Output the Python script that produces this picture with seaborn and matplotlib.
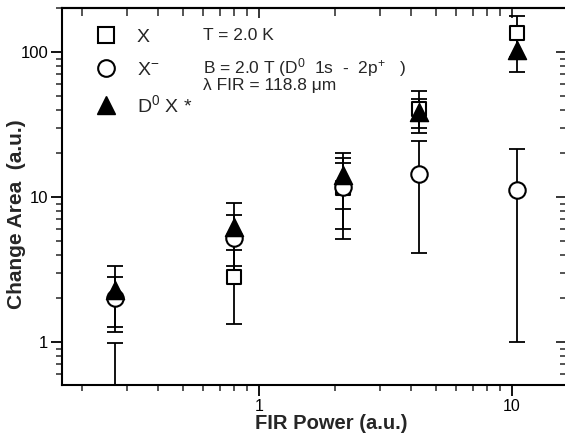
import numpy as np
import pandas as pd
import matplotlib
matplotlib.use('Agg')
import matplotlib.pyplot as plt
import seaborn as sns
from matplotlib.ticker import FuncFormatter, NullFormatter
from matplotlib.lines import Line2D

# ---- data ----
power = [0.27, 0.80, 2.14, 4.30, 10.5]          # FIR power (a.u.)
x_area = [0.30, 2.82, 11.6, 40.5, 134.5]         # X (open squares)
x_err = [0.68, 1.50, 5.6, 13.0, 42.0]
xm_area = [2.0, 5.2, 11.8, 14.3, 11.2]           # X- (open circles)
xm_err = [0.82, 2.3, 6.7, 10.2, 10.2]
d0x_area = [2.3, 6.2, 14.2, 38.7, 103.0]         # D0X* (filled triangles)
d0x_err = [1.03, 2.85, 6.0, 9.0, 30.0]
series_labels = ['X', 'X$^{-}$', 'D$^{0}$ X *']
x_ticks = [1, 10]
y_ticks = [1, 10, 100]

sns.set_style('ticks')
plt.rcParams['font.family'] = ['Liberation Sans', 'DejaVu Sans']
plt.rcParams['mathtext.fontset'] = 'custom'
plt.rcParams['mathtext.rm'] = 'Liberation Sans'
plt.rcParams['mathtext.it'] = 'Liberation Sans:italic'
plt.rcParams['mathtext.bf'] = 'Liberation Sans:bold'

df = pd.DataFrame({
    'power': power * 3,
    'area': x_area + xm_area + d0x_area,
    'series': [series_labels[0]] * 5 + [series_labels[1]] * 5 + [series_labels[2]] * 5,
})

fig = plt.figure(figsize=(5.65, 4.36), dpi=100)
ax = fig.add_axes([62 / 565, 51 / 436, 505 / 565, 377 / 436])
ax.set_xscale('log')
ax.set_yscale('log')

# error bars (below the markers)
for area, err in [(x_area, x_err), (xm_area, xm_err), (d0x_area, d0x_err)]:
    ax.errorbar(power, area, yerr=err, fmt='none', ecolor='black',
                elinewidth=1.3, capsize=6, capthick=1.3, zorder=2)

styles = {
    series_labels[0]: dict(marker='s', s=100, color='white', edgecolor='black', linewidth=1.5, zorder=3),
    series_labels[1]: dict(marker='o', s=140, color='white', edgecolor='black', linewidth=1.5, zorder=4),
    series_labels[2]: dict(marker='^', s=170, color='black', edgecolor='black', linewidth=1.0, zorder=5),
}
for lab in series_labels:
    sub = df[df['series'] == lab]
    sns.scatterplot(data=sub, x='power', y='area', ax=ax, legend=False, **styles[lab])

ax.set_xlim(0.1665, 16.5)
ax.set_ylim(0.505, 201)

fmt = FuncFormatter(lambda v, _: f'{v:g}')
ax.set_xticks(x_ticks)
ax.set_yticks(y_ticks)
ax.xaxis.set_major_formatter(fmt)
ax.yaxis.set_major_formatter(fmt)
ax.xaxis.set_minor_formatter(NullFormatter())
ax.yaxis.set_minor_formatter(NullFormatter())
ax.tick_params(which='major', direction='out', length=8, width=1.3, labelsize=12,
               top=False, right=False, pad=2, colors='black')
ax.tick_params(which='minor', direction='out', length=4, width=1.1, top=False, right=False)
ax.tick_params(axis='x', which='major', pad=2, labelsize=11.5)

for sp in ax.spines.values():
    sp.set_linewidth(1.5)
    sp.set_color('black')

secx = ax.secondary_xaxis('top')
secx.tick_params(which='major', direction='in', length=7, width=1.3, labeltop=False)
secx.tick_params(which='minor', direction='in', length=6, width=1.1)
secx.xaxis.set_major_formatter(NullFormatter())
secx.xaxis.set_minor_formatter(NullFormatter())
secx.spines['top'].set_linewidth(1.5)

secy = ax.secondary_yaxis('right')
secy.tick_params(which='major', direction='in', length=8, width=1.3, labelright=False)
secy.tick_params(which='minor', direction='in', length=5, width=1.1)
secy.yaxis.set_major_formatter(NullFormatter())
secy.yaxis.set_minor_formatter(NullFormatter())

ax.set_xlabel('FIR Power (a.u.)', fontsize=14.5, fontweight='bold')
ax.set_ylabel('Change Area  (a.u.)', fontsize=15, fontweight='bold')
ax.xaxis.set_label_coords(0.533, -0.078)
ax.yaxis.set_label_coords(-0.071, 0.452)

handles = [
    Line2D([], [], ls='none', marker='s', ms=11, mfc='white', mec='black', mew=1.5),
    Line2D([], [], ls='none', marker='o', ms=12, mfc='white', mec='black', mew=1.5),
    Line2D([], [], ls='none', marker='^', ms=13, mfc='black', mec='black', mew=1.0),
]
ax.legend(handles, series_labels, loc='upper left', bbox_to_anchor=(0.067, 0.946),
          frameon=False, fontsize=14, handlelength=1.0, handletextpad=1.1,
          labelspacing=0.78, borderpad=0, borderaxespad=0)

ax.text(0.279, 0.928, 'T = 2.0 K', transform=ax.transAxes, fontsize=12.5, va='center')
ax.text(0.279, 0.843, 'B = 2.0 T (D$^{0}$  1s  -  2p$^{+}$   )', transform=ax.transAxes,
        fontsize=12.5, va='center')
ax.text(0.279, 0.794, '\u03bb FIR = 118.8 \u03bcm', transform=ax.transAxes,
        fontsize=12.5, va='center')

fig.savefig('out.png', dpi=100)
